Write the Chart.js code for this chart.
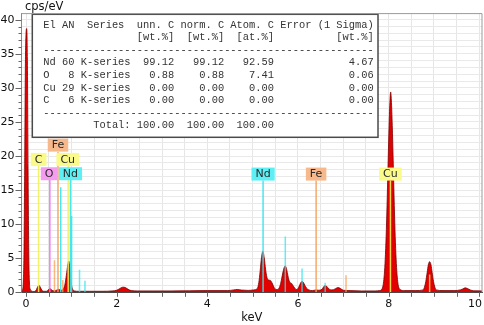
<!DOCTYPE html>
<html><head><meta charset="utf-8">
<script src="https://cdn.jsdelivr.net/npm/chart.js@4.4.1/dist/chart.umd.min.js"></script>
<style>html,body{margin:0;padding:0;background:#fff}#wrap{width:484px;height:325px}</style>
</head><body><div id="wrap"><canvas id="c" width="484" height="325"></canvas></div>
<script>
// ---- spectrum ----
const energyKeV = [-0.10,-0.08,-0.06,-0.045,-0.03,-0.015,0.0,0.015,0.03,0.045,0.06,0.075,0.09,0.12,0.16,0.20,0.23,0.26,0.29,0.32,0.35,0.40,0.45,0.49,0.53,0.57,0.62,0.67,0.71,0.75,0.79,0.83,0.86,0.89,0.92,0.94,0.96,0.98,1.00,1.03,1.07,1.15,1.40,1.70,1.90,2.00,2.07,2.13,2.19,2.25,2.32,2.45,2.80,3.20,3.60,4.00,4.45,4.58,4.66,4.75,4.90,5.02,5.105,5.135,5.165,5.195,5.225,5.255,5.285,5.315,5.35,5.39,5.43,5.47,5.52,5.57,5.61,5.64,5.67,5.70,5.72,5.745,5.77,5.80,5.83,5.86,5.89,5.93,5.97,6.00,6.03,6.06,6.09,6.12,6.15,6.19,6.24,6.32,6.40,6.46,6.53,6.59,6.63,6.68,6.75,6.82,6.88,6.94,7.00,7.15,7.40,7.70,7.80,7.85,7.87,7.89,7.91,7.93,7.95,7.97,7.99,8.01,8.03,8.045,8.06,8.08,8.10,8.12,8.14,8.16,8.18,8.20,8.22,8.25,8.35,8.60,8.76,8.79,8.82,8.85,8.875,8.905,8.935,8.96,8.99,9.02,9.05,9.20,9.45,9.58,9.64,9.69,9.74,9.80,9.88,10.06];
const countsCps = [0,0.3,1.5,6,18,33,38,38.7,34,18,6,1.5,0.5,0.2,0.12,0.15,0.4,0.85,1.0,0.7,0.3,0.15,0.15,0.35,0.55,0.3,0.2,0.3,0.45,0.35,0.3,0.6,1.2,2.5,4.0,4.6,4.0,2.5,1.2,0.45,0.2,0.15,0.15,0.15,0.2,0.3,0.55,0.75,0.7,0.45,0.25,0.2,0.2,0.2,0.22,0.25,0.25,0.35,0.42,0.33,0.28,0.35,0.6,1.4,3.1,5.1,6.0,5.1,3.4,2.2,1.8,1.75,1.35,0.75,0.4,0.5,1.1,2.0,3.0,3.7,3.85,3.5,2.7,1.8,1.4,1.3,1.0,0.6,0.4,0.55,0.95,1.4,1.6,1.45,1.05,0.6,0.35,0.25,0.35,0.3,0.45,0.95,0.9,0.5,0.35,0.5,0.7,0.55,0.3,0.25,0.2,0.2,0.25,0.45,0.8,1.6,3.1,5.6,9.2,14,19.4,24.5,28.2,29.4,28.2,24.5,19.4,14,9.2,5.6,3.1,1.6,0.8,0.4,0.25,0.25,0.35,0.75,1.6,2.9,4.0,4.5,4.0,2.9,1.6,0.75,0.35,0.25,0.25,0.35,0.5,0.65,0.55,0.35,0.22,0.2];

// ---- element marker lines ----
const markerElement = ['C','O','Fe','Fe','Fe','Cu','Nd','Nd','Nd','Nd','Nd','Nd','Nd','Nd','Nd','Fe','Fe','Cu','Cu'];
const markerEnergy  = [0.277,0.525,0.705,0.628,0.81,0.93,0.982,0.765,1.005,1.18,1.30,5.23,5.72,6.09,6.60,6.40,7.06,8.04,8.905];
const markerHeight  = [18.6,16.5,20.6,4.7,1.8,18.6,16.5,15.4,11.2,3.3,1.7,16.4,8.2,3.5,1.4,16.4,2.5,16.4,2.6];

// ---- element labels ----
const labelElement = ['Fe','C','Cu','O','Nd','Nd','Fe','Cu'];
const labelEnergy  = [0.705,0.277,0.92,0.51,0.98,5.23,6.40,8.04];
const labelLevel   = [21.6,19.5,19.5,17.4,17.4,17.35,17.35,17.35];

// ---- ticks ----
const xTickLabels = [0,2,4,6,8,10];
const yTickLabels = [0,5,10,15,20,25,30,35,40];

// ---- quantification table ----
const tableLines = [
 'El AN  Series  unn. C norm. C Atom. C Error (1 Sigma)',
 '               [wt.%]  [wt.%]  [at.%]          [wt.%]',
 '-----------------------------------------------------',
 'Nd 60 K-series  99.12   99.12   92.59            4.67',
 'O   8 K-series   0.88    0.88    7.41            0.06',
 'Cu 29 K-series   0.00    0.00    0.00            0.00',
 'C   6 K-series   0.00    0.00    0.00            0.00',
 '-----------------------------------------------------',
 '        Total: 100.00  100.00  100.00'
];

// ---- styles ----
const lineColor = {C:'#f2f25a', O:'#f06ef0', Fe:'#f5a055', Cu:'#f2f25a', Nd:'#35e4f0'};
const boxColor  = {C:'#fafa8a', O:'#f59cf0', Fe:'#f7b98b', Cu:'#fafa8a', Nd:'#5eeff5'};
const sansFont = '"DejaVu Sans", Verdana, sans-serif';

const overlay = {
  id: 'overlay',
  afterDatasetsDraw(chart) {
    const {ctx, chartArea: a, scales: {x, y}} = chart;
    // marker lines
    ctx.save();
    ctx.beginPath(); ctx.rect(a.left, a.top, a.right - a.left, a.bottom - a.top); ctx.clip();
    ctx.lineWidth = 1.5;
    markerEnergy.forEach((e, i) => {
      const px = x.getPixelForValue(e);
      ctx.strokeStyle = lineColor[markerElement[i]];
      ctx.globalAlpha = markerHeight[i] < 10 ? 0.75 : 0.9;
      ctx.beginPath();
      ctx.moveTo(px, y.getPixelForValue(0));
      ctx.lineTo(px, y.getPixelForValue(markerHeight[i]));
      ctx.stroke();
    });
    ctx.restore();

    // labels
    ctx.save();
    ctx.font = '11px ' + sansFont;
    ctx.textAlign = 'center'; ctx.textBaseline = 'middle';
    labelElement.forEach((el, i) => {
      const cx = x.getPixelForValue(labelEnergy[i]);
      const cy = y.getPixelForValue(labelLevel[i]);
      const w = ctx.measureText(el).width + 8, h = 13;
      ctx.fillStyle = boxColor[el];
      ctx.fillRect(cx - w / 2, cy - h / 2, w, h);
      ctx.fillStyle = '#2a2a2a';
      ctx.fillText(el, cx, cy + 0.5);
    });
    ctx.restore();

    // table
    ctx.save();
    ctx.fillStyle = '#fff';
    ctx.fillRect(32.3, 14.3, 345.7, 123);
    ctx.strokeStyle = '#4a4a4a'; ctx.lineWidth = 1.5;
    ctx.strokeRect(32.3, 14.3, 345.7, 123);
    ctx.fillStyle = '#333';
    ctx.font = '10.4px "Liberation Mono", "Courier New", monospace';
    ctx.textAlign = 'left'; ctx.textBaseline = 'middle';
    const ys = [25, 37.5, 50.7, 62.7, 75.3, 88.3, 100.7, 113.3, 125.7];
    tableLines.forEach((t, i) => ctx.fillText(t, 43.3, ys[i]));
    ctx.restore();
  },
  afterDraw(chart) {
    const {ctx, chartArea: a, scales: {x, y}} = chart;
    ctx.save();
    // top / right frame
    ctx.strokeStyle = '#9a9a9a'; ctx.lineWidth = 1;
    ctx.beginPath();
    ctx.moveTo(a.left, a.top); ctx.lineTo(a.right, a.top); ctx.lineTo(a.right, a.bottom);
    ctx.stroke();
    // y tick marks
    ctx.strokeStyle = '#666';
    for (let v = 0; v <= 40; v++) {
      const py = Math.round(y.getPixelForValue(v)) + 0.5;
      const len = v % 5 === 0 ? 6 : 3;
      ctx.beginPath(); ctx.moveTo(a.left - len, py); ctx.lineTo(a.left, py); ctx.stroke();
    }
    // x tick marks
    for (let v = 0; v <= 10; v += 0.5) {
      const px = Math.round(x.getPixelForValue(v)) + 0.5;
      ctx.beginPath(); ctx.moveTo(px, a.bottom); ctx.lineTo(px, a.bottom + 4.5); ctx.stroke();
    }
    // x tick labels
    ctx.fillStyle = '#111';
    ctx.font = '11px ' + sansFont;
    ctx.textBaseline = 'middle'; ctx.textAlign = 'center';
    xTickLabels.forEach(v => {
      const s = String(v);
      const w = ctx.measureText(s).width;
      let px = x.getPixelForValue(v);
      if (px + w / 2 > 482) px = 482 - w / 2;
      ctx.fillText(s, px, 304);
    });
    // axis titles
    ctx.font = '11.5px ' + sansFont;
    ctx.textAlign = 'left';
    ctx.fillText('cps/eV', 25, 7.5);
    ctx.textAlign = 'center';
    ctx.fillText('keV', (a.left + a.right) / 2, 318);
    ctx.restore();
  }
};

new Chart(document.getElementById('c'), {
  type: 'line',
  data: {
    datasets: [{
      data: energyKeV.map((e, i) => ({x: e, y: countsCps[i]})),
      fill: 'origin',
      backgroundColor: '#e20000',
      borderColor: '#780000',
      borderWidth: 0.8,
      pointRadius: 0,
      cubicInterpolationMode: 'monotone'
    }]
  },
  options: {
    responsive: false,
    animation: false,
    devicePixelRatio: 1,
    layout: {padding: {top: 12.3, right: 2, left: 0, bottom: 0}},
    plugins: {legend: {display: false}, tooltip: {enabled: false}},
    scales: {
      x: {
        type: 'linear', min: -0.1, max: 10.06,
        afterBuildTicks: s => { const t = []; for (let v = 0; v <= 10; v += 0.5) t.push({value: v}); s.ticks = t; },
        afterFit: s => { s.height = 32.7; },
        ticks: {display: false},
        grid: {color: '#e6e6e6', lineWidth: 1, drawTicks: false},
        border: {display: true, color: '#4a4a4a', width: 1}
      },
      y: {
        min: 0, max: 40.9,
        afterBuildTicks: s => { const t = []; for (let v = 0; v <= 40; v++) t.push({value: v}); s.ticks = t; },
        afterFit: s => { s.width = 21.5; },
        ticks: {
          autoSkip: false, padding: 7, color: '#111',
          font: {family: sansFont, size: 11},
          callback: v => yTickLabels.includes(v) ? String(v) : ''
        },
        grid: {color: '#e9e9e9', lineWidth: 1, drawTicks: false},
        border: {display: true, color: '#8a8a8a', width: 1}
      }
    }
  },
  plugins: [overlay]
});
</script>
</body></html>
